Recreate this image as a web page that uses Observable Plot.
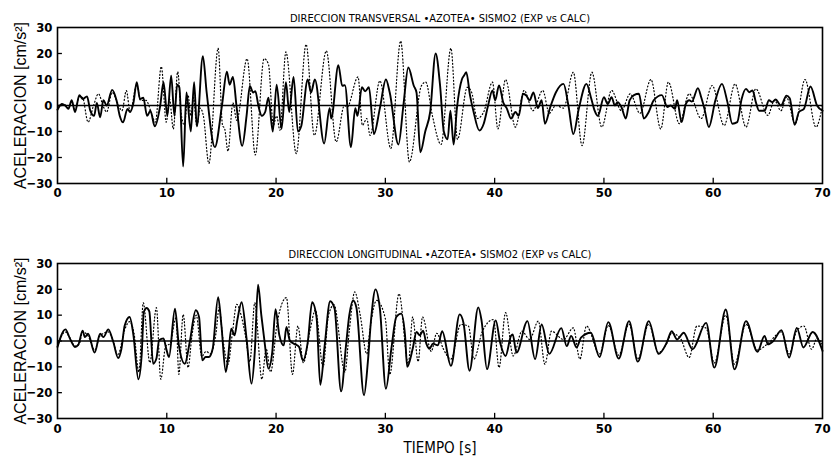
<!DOCTYPE html>
<html><head><meta charset="utf-8">
<script src="https://cdn.jsdelivr.net/npm/d3@7"></script>
<script src="https://cdn.jsdelivr.net/npm/@observablehq/plot@0.6"></script>
<style>
body{margin:0;background:#fff;}
#wrap{position:relative;width:833px;height:460px;background:#fff;}
#wrap svg{position:absolute;left:0;}
</style></head>
<body><div id="wrap"></div>
<script>
// ---- data: [tiempo (s), aceleracion (cm/s2)] ----
const transExp = [[0,-1.6],[0.4,0.6],[0.7,0],[1.0,-1.3],[1.3,2],[1.6,-2.5],[2.0,4],[2.3,2.5],[2.7,3.5],[3.0,-2],[3.35,-4],[3.6,1],[3.9,-4.5],[4.2,2],[4.5,0],[5.0,6],[5.4,2],[5.7,-4],[6.0,-6.5],[6.4,-1.3],[6.65,-2.5],[6.95,1],[7.25,9],[7.55,2.5],[7.85,3],[8.2,-4],[8.5,-2],[8.9,-8],[9.4,0],[9.7,9],[10.05,-4],[10.4,11.5],[10.7,-4],[10.95,8],[11.15,7],[11.5,-23.5],[11.8,5],[12.2,-10],[12.5,9],[12.75,-8],[13.3,19],[13.65,5],[14.4,-16],[15.05,0],[15.5,13],[15.75,8],[16.05,11],[16.4,-1],[16.9,-15.5],[17.3,-4],[17.6,7.5],[17.9,5],[18.1,5.5],[18.4,-0.5],[18.7,-4],[19.0,-2.5],[19.3,3],[19.7,-10],[20.05,8],[20.5,-9],[20.9,9],[21.2,-2.5],[21.6,11],[22.0,-10],[22.3,-8],[22.9,10],[23.2,5],[23.55,10],[24.4,-14.6],[24.9,-1],[25.05,-5],[25.7,15.5],[26.05,7.6],[26.3,7.8],[26.85,-16],[27.25,-1],[27.45,-4],[27.85,7],[28.15,5.5],[28.5,7],[28.95,-11],[29.5,-1],[30.05,10],[30.4,5],[31.2,-15],[31.65,0],[32.1,14.6],[32.6,7.6],[32.85,5],[33.2,-18],[33.65,-10],[34.1,-2.5],[34.6,20],[35.0,8],[35.35,-10],[35.7,-13],[35.95,-2],[36.25,-15],[36.55,-1],[37.0,10],[37.2,11.5],[37.4,12.8],[37.75,3.8],[38.05,-2],[38.6,-9.6],[39.0,-7],[39.4,0],[39.8,5.8],[40.05,2],[40.4,7.7],[40.8,1],[41.1,-1],[41.5,-5],[41.9,-2.5],[42.2,-4],[42.6,4.5],[42.9,3.8],[43.2,2],[43.55,5],[43.95,-1],[44.3,2],[44.6,-7],[45.1,-0.5],[45.6,5],[46.3,8.3],[46.75,0],[47.2,-11],[47.7,-1.3],[48.4,8.3],[48.85,2.5],[49.15,-2],[49.45,-4],[50.0,3.2],[50.35,0.6],[50.7,3.2],[51.0,0],[51.25,1.3],[51.6,-0.6],[52.0,-5],[52.35,2],[52.75,4],[53.2,4.5],[53.65,-5],[54.1,-2.5],[54.55,2],[55.3,4],[55.8,-0.6],[56.1,0],[56.5,-1.3],[56.7,2],[57.1,-6.4],[57.5,0.6],[57.8,2],[58.05,1.5],[58.6,6.7],[58.9,3.2],[59.2,-1.3],[59.6,-8.3],[60.2,2],[60.8,8.3],[61.3,1.3],[61.75,-7],[62.2,-6.4],[62.6,2.5],[63.0,6.4],[63.3,5.1],[63.6,5.8],[63.9,1.3],[64.2,-2],[64.7,-2],[65.1,2],[65.4,1.3],[65.7,2.3],[66.2,0],[66.7,3.8],[67.0,2.8],[67.45,-7.4],[67.85,-2.5],[68.3,-1.3],[68.9,7.3],[69.5,0],[70,-2]];
const transCalc = [[0,-1.5],[0.4,0.5],[0.7,0.2],[1.0,-1],[1.3,1.8],[1.6,-2],[2.0,3.5],[2.3,3],[2.8,-6.4],[3.3,0],[3.75,4.5],[4.2,-0.5],[4.5,-2.5],[5.0,5],[5.5,1],[5.9,-2],[6.3,5.7],[6.65,-2.5],[7.25,8],[7.6,2],[8.1,2],[8.6,-3],[8.95,-6.4],[9.5,15],[9.95,-6.4],[10.25,2.5],[10.6,-9],[11.0,13],[11.3,-2.5],[11.6,-7.5],[11.95,4],[12.2,-4],[12.45,3],[12.75,-8],[13.05,-1],[13.35,-4],[13.85,-22.3],[14.7,22],[15.1,-7.6],[15.3,-9],[15.6,-17.6],[16.05,1],[16.4,-5.7],[17.35,18],[18.1,-19],[18.9,18],[19.3,16],[19.75,-7.6],[20.05,-4],[20.35,-9.5],[20.9,20.6],[21.85,-18.5],[22.75,23.5],[23.5,-11.5],[24.6,21],[25.5,-14],[26.25,0],[26.5,-0.6],[27.5,11],[27.9,-7.6],[28.3,-5],[28.6,-11.5],[29.5,9.5],[30.5,-16.5],[31.4,24.8],[32.2,-21.7],[33.3,7.6],[33.7,9],[34.3,-3.8],[35.1,-15],[36.0,22],[36.6,-13],[37.5,7],[37.9,5],[38.4,-5],[39.0,-2.5],[39.8,9],[40.3,-9],[41.0,10],[41.9,-8.3],[42.7,5.8],[43.5,-2],[44.4,5.8],[45.0,-3],[45.6,0],[46.3,-1],[47.2,12.8],[48.0,-15.4],[48.9,12.8],[49.8,-8.3],[50.7,5.8],[51.6,-2],[52.4,4.5],[53.3,-3],[54.3,10],[55.2,-9],[55.9,9],[56.9,-7],[57.8,4.5],[58.9,-5],[59.9,7.7],[61.0,-7.7],[62.0,8.3],[63.0,-8.3],[63.9,6.4],[65.0,-3.8],[65.6,2],[66.2,-2],[66.7,3.2],[67.5,-7],[68.4,10],[69.4,-8.3],[70,0]];
const longExp = [[0,-2.3],[0.73,4.5],[1.13,1],[1.6,-2.3],[1.9,-1.5],[2.3,4],[2.5,1.5],[2.8,2.8],[3.4,-4.5],[3.9,2.8],[4.2,1.5],[4.65,4.5],[5.1,-0.3],[5.55,-6.6],[5.85,-3],[6.15,6],[6.6,9.3],[6.95,2.2],[7.4,-14.8],[7.7,-5.5],[7.9,11.2],[8.15,12.8],[8.4,11.5],[8.75,-8.8],[9.05,-6.8],[9.3,0.3],[9.7,1],[9.95,-3],[10.2,-6.2],[10.75,12.5],[11.1,-1.5],[11.65,-8.8],[12.1,-0.4],[12.65,11.9],[12.95,9.3],[13.25,-7.5],[13.55,-6.2],[13.85,-6.2],[14.2,-3],[14.7,17],[15.0,6],[15.4,-12],[15.6,-6.8],[15.9,4.8],[16.2,2.2],[16.45,8],[16.85,15],[17.3,0.9],[17.75,-16.5],[18.05,-4.3],[18.35,21.8],[18.65,10],[18.95,-0.4],[19.3,-10.7],[19.65,-4.3],[19.95,12.3],[20.3,2.2],[20.7,-1.7],[20.95,5.4],[21.25,0.3],[21.6,-1],[22.1,-2.3],[22.45,-7.5],[22.9,-0.4],[23.3,15],[23.7,9.3],[24.05,-17],[24.45,-1.7],[24.95,15.4],[25.35,12.6],[25.95,-19.5],[26.4,-1.7],[26.7,10],[27.05,15.7],[27.35,13],[28.05,-21],[28.4,-8],[28.7,8.6],[29.1,20],[29.5,12.5],[30.05,-18.5],[30.55,-3],[31.0,9.3],[31.45,10.6],[31.8,2.2],[32.0,-10],[32.5,-3],[32.85,3.5],[33.15,2.2],[33.45,4],[33.75,-1],[34.05,-3],[34.35,-1],[34.8,-1.7],[35.2,3.8],[36.0,-9.6],[36.8,10.3],[37.15,7],[37.7,-11.5],[38.5,13],[38.8,8],[39.3,-10.9],[40.1,8],[40.5,-0.6],[41.0,-5.8],[41.5,2],[41.65,2.5],[42.0,-4.5],[43.0,7.7],[43.7,-7],[44.3,6.4],[45.0,-5],[46.1,5],[46.6,-2],[47.0,2],[47.5,-2.5],[47.9,1.3],[48.8,3.2],[49.6,-6.2],[50.4,7.3],[51.35,-6.8],[52.3,7.7],[53.1,-8],[54.1,7.7],[55.0,-5],[55.75,-0.6],[56.2,3.8],[56.7,0.6],[57.3,3.2],[58.1,-3.2],[59.35,7],[60.1,-10.3],[61.15,12.2],[61.95,-11],[63.0,7.7],[64.05,-4.2],[64.7,2],[65.0,-1.3],[65.5,0],[66.25,4.2],[66.95,-6.4],[67.65,5.1],[68.25,-2.5],[69.1,3.5],[70,-3.8]];
const longCalc = [[0,-2],[0.7,3.5],[1.1,1.5],[1.6,-2],[2.0,-1],[2.3,3.5],[2.8,2],[3.4,-3.5],[3.9,2],[4.65,3.5],[5.1,0],[5.5,-5.5],[6.2,5],[6.6,7.5],[7.0,3],[7.45,-12],[7.85,14.8],[8.45,-8.4],[9.05,12.9],[9.45,-14.8],[9.9,-2],[10.3,-1],[10.85,9],[11.1,-12.9],[11.5,10.3],[11.95,-10.3],[12.3,2],[12.7,10],[13.2,-6],[13.6,-4],[14.0,-5],[14.5,3],[14.8,13],[15.1,2],[15.6,-9],[16.0,3],[16.4,14.2],[16.8,10],[17.2,2],[17.6,-8],[18.05,14.8],[18.7,-14.8],[19.1,-3],[19.5,-12],[20.1,7],[20.95,16.8],[21.5,-12.9],[22.0,5.8],[22.5,-8.4],[23.1,4],[23.6,12],[24.3,-10],[24.8,10],[25.3,14],[26.3,-12],[26.7,4],[27.2,19],[27.7,10],[28.3,-5],[28.6,4.8],[29.2,15.7],[30.0,8.6],[30.4,-13],[31.25,18.3],[32.1,-8.8],[32.5,9.3],[33.0,-8],[33.4,9.3],[34.2,-4],[34.7,3],[35.3,-3],[36.0,-7],[36.9,6.4],[37.6,5.8],[38.1,-7],[38.9,4],[39.9,8.3],[40.4,-10.3],[41.0,11],[41.7,-5.8],[42.5,3.8],[43.2,0.6],[44.0,7.7],[44.6,-9],[45.2,3.8],[46.3,0.6],[47.2,5.1],[47.8,-7],[48.4,5.8],[49.6,-5],[50.4,6],[51.35,-5.5],[52.3,6.5],[53.1,-7],[54.1,6.5],[55.0,-4.5],[55.8,-0.5],[56.2,3],[57.0,1],[57.8,-6.4],[58.5,5.8],[59.35,5],[60.1,-8.5],[61.15,10],[61.95,-9],[63.0,6.5],[64.05,-3.5],[65.0,-1],[66.25,3.5],[66.95,-5],[67.65,4],[68.3,5.8],[69.0,-3.2],[69.5,1],[70,-1.5]];

const xTicks = [0, 10, 20, 30, 40, 50, 60, 70];
const yTicks = [-30, -20, -10, 0, 10, 20, 30];
const innerXTicks = [10, 20, 30, 40, 50, 60];
const titles = ["DIRECCION TRANSVERSAL •AZOTEA• SISMO2 (EXP vs CALC)",
                "DIRECCION LONGITUDINAL •AZOTEA• SISMO2 (EXP vs CALC)"];
const yLabel = "ACELERACION [cm/s²]";
const xLabel = "TIEMPO [s]";

const FONT = '"Liberation Sans Narrow","DejaVu Sans Condensed","Liberation Sans",sans-serif';
const LABELFONT = '"Liberation Sans",Arial,sans-serif';

function panel(exp, calc, title, opts) {
  const toObj = a => a.map(([t, v]) => ({t, v}));
  const marks = [
    Plot.ruleY([0], {stroke: "#000", strokeWidth: 1.6}),
    Plot.line(toObj(calc), {x: "t", y: "v", curve: "monotone-x", stroke: "#000", strokeWidth: 1.2, strokeDasharray: "1,2.4"}),
    Plot.line(toObj(exp), {x: "t", y: "v", curve: "monotone-x", stroke: "#000", strokeWidth: 1.9}),
    Plot.ruleX(innerXTicks, {y1: -30, y2: -28, stroke: "#000", strokeWidth: 1.3}),
    Plot.ruleY(yTicks.slice(1, -1), {x1: 0, x2: 0.45, stroke: "#000", strokeWidth: 1.3}),
    Plot.frame({stroke: "#000", strokeWidth: 1.6}),
    Plot.axisX(xTicks, {tickSize: 0, tickPadding: opts.xPad, fontSize: 13, fontWeight: "bold", label: null}),
    Plot.axisY(yTicks, {tickSize: 0, tickPadding: 5, fontSize: 13, fontWeight: "bold", label: null}),
    Plot.text([title], {text: d => d, frameAnchor: "top", dy: -13, fontSize: 11, fill: "#000"}),
    Plot.text([yLabel], {text: d => d, frameAnchor: "left", textAnchor: "middle", dx: -37, rotate: -90, fontSize: 16, fontFamily: LABELFONT, fill: "#000"})
  ];
  if (opts.xLabel) marks.push(Plot.text([opts.xLabel], {text: d => d, frameAnchor: "bottom", dy: 34, fontSize: 15, fill: "#000"}));
  const svg = Plot.plot({
    width: 833, height: opts.height,
    marginLeft: 57, marginRight: 11, marginTop: opts.mt, marginBottom: opts.mb,
    style: {fontFamily: FONT, background: "transparent", color: "#000", overflow: "visible"},
    x: {domain: [0, 70]},
    y: {domain: [-30, 30]},
    marks
  });
  svg.style.top = opts.top + "px";
  return svg;
}

const wrap = document.getElementById("wrap");
wrap.appendChild(panel(transExp, transCalc, titles[0], {height: 205, top: 0, mt: 27, mb: 22, xPad: 4}));
wrap.appendChild(panel(longExp, longCalc, titles[1], {height: 230, top: 230, mt: 33, mb: 42, xPad: 5, xLabel}));
</script>
</body></html>
